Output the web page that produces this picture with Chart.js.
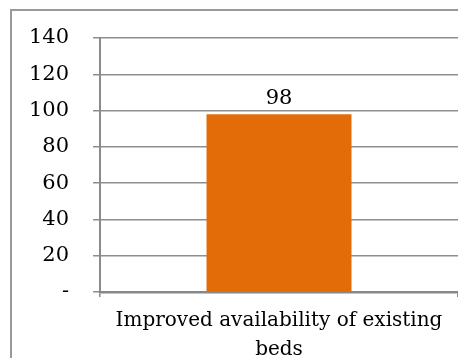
<!DOCTYPE html>
<html>
<head>
<meta charset="utf-8">
<script src="https://cdn.jsdelivr.net/npm/chart.js@4.4.1/dist/chart.umd.min.js"></script>
<style>
  html, body { margin: 0; padding: 0; background: #ffffff; overflow: hidden; }
  canvas { display: block; }
</style>
</head>
<body>
<canvas id="chart" width="458" height="358"></canvas>
<script>
// Category, series values and axis ticks
const categories = [["Improved availability of existing", "beds"]];
const values = [98];
const yTicks = [0, 20, 40, 60, 80, 100, 120, 140];

const FONT = "'DejaVu Serif', 'Liberation Serif', serif";

// Outer frame of the chart box: left and top edges (the rest lies outside the canvas)
const chartFrame = {
  id: 'chartFrame',
  beforeDraw(chart) {
    const ctx = chart.ctx;
    ctx.save();
    ctx.fillStyle = '#999999';
    ctx.fillRect(10, 9, 2, chart.height - 9);
    ctx.fillRect(10, 9, chart.width - 10, 2);
    ctx.restore();
  }
};

// Writes each bar's value just above it
const valueLabels = {
  id: 'valueLabels',
  afterDatasetsDraw(chart) {
    const ctx = chart.ctx;
    const meta = chart.getDatasetMeta(0);
    ctx.save();
    ctx.font = "21px " + FONT;
    ctx.fillStyle = '#000000';
    ctx.textAlign = 'center';
    ctx.textBaseline = 'middle';
    meta.data.forEach((bar, i) => {
      ctx.fillText(String(chart.data.datasets[0].data[i]), bar.x, bar.y - 16);
    });
    ctx.restore();
  }
};

new Chart(document.getElementById('chart'), {
  type: 'bar',
  data: {
    labels: categories,
    datasets: [{
      data: values,
      backgroundColor: '#E36C09',
      borderWidth: 0,
      categoryPercentage: 1,
      barPercentage: 0.405
    }]
  },
  options: {
    responsive: false,
    animation: false,
    layout: { padding: { left: 0, right: 0, top: 38, bottom: 0 } },
    plugins: { legend: { display: false }, tooltip: { enabled: false } },
    scales: {
      y: {
        min: 0,
        max: 140,
        afterFit(scale) { scale.width = 100; },
        afterBuildTicks(scale) { scale.ticks = yTicks.map(v => ({ value: v })); },
        ticks: {
          padding: 24,
          color: '#000000',
          font: { family: FONT, size: 21 },
          callback: v => (v === 0 ? '-' : String(v))
        },
        grid: {
          color: '#8e8e8e',
          lineWidth: 1.5,
          tickLength: 7,
          drawTicks: true
        },
        border: { color: '#8a8a8a', width: 2 }
      },
      x: {
        afterFit(scale) { scale.height = 66; },
        ticks: {
          padding: 9,
          color: '#000000',
          maxRotation: 0,
          font: { family: FONT, size: 20, lineHeight: 1.45 }
        },
        grid: {
          drawOnChartArea: false,
          drawTicks: true,
          tickLength: 5,
          color: '#8a8a8a',
          lineWidth: 1.5
        },
        border: { color: '#878787', width: 2.5 }
      }
    }
  },
  plugins: [chartFrame, valueLabels]
});
</script>
</body>
</html>
